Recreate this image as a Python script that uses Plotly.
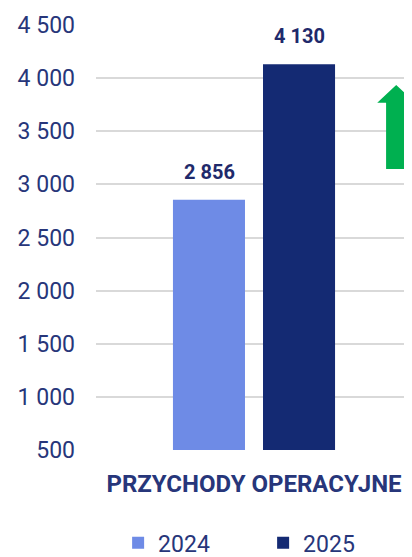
import plotly.graph_objects as go

categories = ["PRZYCHODY OPERACYJNE"]
years = ["2024", "2025"]
values_2024 = [2856]
values_2025 = [4130]
colors = {"2024": "#6E8BE6", "2025": "#142A73"}
y_ticks = [500, 1000, 1500, 2000, 2500, 3000, 3500, 4000, 4500]

FONT = "Roboto"
NAVY = "#27367A"

fig = go.Figure()
for yr, vals in zip(years, [values_2024, values_2025]):
    fig.add_trace(go.Bar(
        x=categories, y=vals, name=yr,
        marker=dict(color=colors[yr], line=dict(width=0)),
        hoverinfo="skip",
    ))

# value labels above bars
for i, vals in enumerate([values_2024, values_2025]):
    fig.add_annotation(
        x=categories[0], y=vals[0], xref="x", yref="y",
        text="<b>" + f"{vals[0]:,}".replace(",", " ") + "</b>",
        showarrow=False, yanchor="bottom", xanchor="center",
        xshift=-45 if i == 0 else 45, yshift=14,
        font=dict(family=FONT, size=20, color="#1F2A6B"),
    )

# green up arrow (decoration)
fig.add_shape(
    type="path", xref="paper", yref="paper",
    path="M0.918,0.661L0.980,0.661L0.980,0.817L1.010,0.817L0.950,0.859L0.890,0.817L0.918,0.817Z",
    fillcolor="#00B050", line=dict(width=0),
)

fig.update_layout(
    width=404, height=549,
    margin=dict(l=88, r=0, t=17, b=107, autoexpand=False),
    paper_bgcolor="white", plot_bgcolor="white",
    barmode="group", bargap=0.43, bargroupgap=0.2,
    separators=", ",
    font=dict(family=FONT, color=NAVY),
    showlegend=True,
    legend=dict(
        orientation="h", x=0.07, xanchor="left", y=-0.168, yanchor="top",
        font=dict(family=FONT, size=23, color=NAVY),
        entrywidth=100, entrywidthmode="pixels",
        itemclick=False, itemdoubleclick=False,
    ),
    xaxis=dict(
        showgrid=False, showline=False, zeroline=False,
        tickfont=dict(family=FONT, size=24, color=NAVY, weight="bold"),
        ticks="", ticklabelstandoff=17,
    ),
    yaxis=dict(
        range=[500, 4500], tickvals=y_ticks, tickformat=",.0f",
        showgrid=True, gridcolor="#D9D9D9", gridwidth=1.5,
        zeroline=False, showline=False,
        tickfont=dict(family=FONT, size=23, color=NAVY),
        ticks="", ticklabelstandoff=20,
    ),
)

fig.write_html("out.html")
